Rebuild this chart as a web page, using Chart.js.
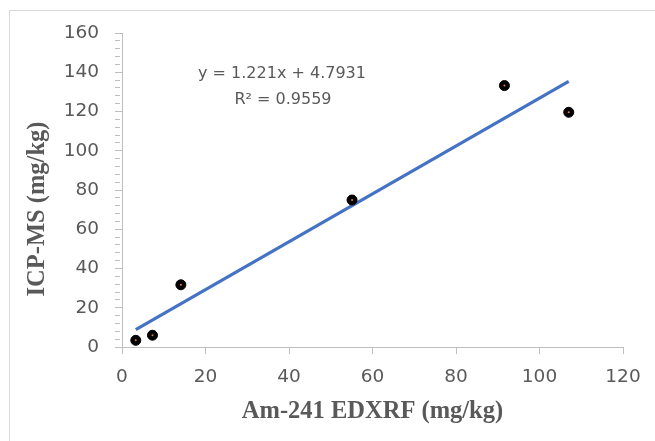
<!DOCTYPE html>
<html>
<head>
<meta charset="utf-8">
<script src="https://cdn.jsdelivr.net/npm/chart.js@4/dist/chart.umd.min.js"></script>
<style>
html,body{margin:0;padding:0;background:#fff;}
canvas{display:block;}
</style>
</head>
<body>
<canvas id="c" width="655" height="441"></canvas>
<script>
// Data
const edxrf = [3.3, 7.3, 14.1, 55.1, 91.6, 107.0];
const icpms = [3.4, 6.0, 31.7, 74.9, 133.2, 119.6];
const trendX = [3.3, 107.0];
const trendY = [8.8, 135.4];
const equationText = ['y = 1.221x + 4.7931', 'R² = 0.9559'];
const xTitle = 'Am-241 EDXRF (mg/kg)';
const yTitle = 'ICP-MS (mg/kg)';

const pts = edxrf.map((x, i) => ({x: x, y: icpms[i]}));
const trend = trendX.map((x, i) => ({x: x, y: trendY[i]}));

const gray = '#595959';
const axisGray = '#bfbfbf';
const sansFont = '"DejaVu Sans", Verdana, sans-serif';
const serifFont = '"Liberation Serif", "Times New Roman", serif';

const decor = {
  id: 'decor',
  beforeDraw(chart) {
    const ctx = chart.ctx;
    ctx.save();
    ctx.fillStyle = '#fff';
    ctx.fillRect(0, 0, chart.width, chart.height);
    ctx.strokeStyle = '#d9d9d9';
    ctx.lineWidth = 1;
    ctx.strokeRect(9.5, 10.5, 700, 500);
    ctx.restore();
  },
  afterDraw(chart) {
    const ctx = chart.ctx;
    const area = chart.chartArea;
    ctx.save();
    ctx.fillStyle = gray;
    ctx.font = '16px ' + sansFont;
    ctx.textAlign = 'center';
    ctx.textBaseline = 'middle';
    ctx.fillText(equationText[0], 282, 74);
    ctx.fillText(equationText[1], 283, 100);

    ctx.font = 'bold 24.5px ' + serifFont;
    ctx.fillText(xTitle, (area.left + area.right) / 2, 412);
    ctx.translate(38, 209);
    ctx.rotate(-Math.PI / 2);
    ctx.fillText(yTitle, 0, 0);
    ctx.restore();
  }
};

new Chart(document.getElementById('c'), {
  type: 'scatter',
  data: {
    datasets: [
      {
        type: 'line',
        data: trend,
        borderColor: '#4472C4',
        borderWidth: 3.2,
        pointRadius: 0,
        fill: false,
        order: 3
      },
      {
        data: pts,
        backgroundColor: '#000',
        borderColor: '#000',
        borderWidth: 1,
        pointRadius: 5,
        order: 2
      },
      {
        data: pts,
        backgroundColor: '#ED7D31',
        borderColor: '#ED7D31',
        borderWidth: 0,
        pointRadius: 1,
        order: 1
      }
    ]
  },
  options: {
    responsive: false,
    animation: false,
    layout: {padding: {top: 33, right: 32, left: 0, bottom: 0}},
    plugins: {legend: {display: false}, tooltip: {enabled: false}},
    scales: {
      x: {
        type: 'linear',
        min: 0, max: 120,
        ticks: {stepSize: 20, color: gray, font: {family: sansFont, size: 18.5}, padding: 12},
        grid: {drawOnChartArea: false, drawTicks: true, tickLength: 7, color: axisGray},
        border: {color: axisGray, width: 1},
        title: {display: false, text: xTitle},
        afterFit(scale) { scale.height = 94; }
      },
      y: {
        type: 'linear',
        min: 0, max: 160,
        ticks: {
          stepSize: 4, autoSkip: false, color: gray,
          font: {family: sansFont, size: 18.5}, padding: 16,
          callback: (v) => (v % 20 === 0 ? String(v) : '')
        },
        grid: {
          drawOnChartArea: false, drawTicks: true, tickLength: 7, color: axisGray,
          tickBorderDash: (c) => (c.tick && c.tick.value % 20 !== 0 ? [5, 30] : [])
        },
        border: {color: axisGray, width: 1},
        title: {display: false, text: yTitle},
        afterFit(scale) { scale.width = 122; }
      }
    }
  },
  plugins: [decor]
});
</script>
</body>
</html>
